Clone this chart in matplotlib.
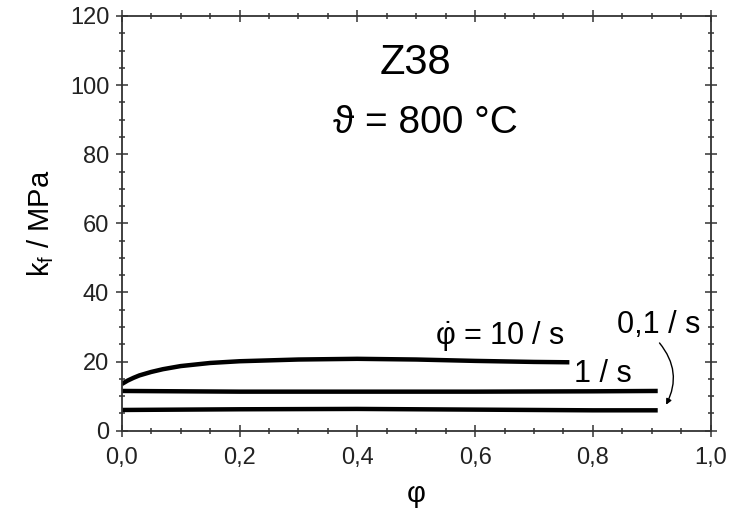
import matplotlib
matplotlib.use("Agg")
import matplotlib.pyplot as plt
from matplotlib.ticker import MultipleLocator

plt.rcParams['font.family'] = ['Liberation Sans', 'DejaVu Sans']
plt.rcParams['mathtext.fontset'] = 'custom'
plt.rcParams['mathtext.rm'] = 'Liberation Sans'
plt.rcParams['mathtext.it'] = 'Liberation Sans:italic'
plt.rcParams['mathtext.bf'] = 'Liberation Sans:bold'

# data
phi_10 = [0.0, 0.01, 0.02, 0.03, 0.05, 0.07, 0.1, 0.15, 0.2, 0.3, 0.4, 0.5, 0.6, 0.7, 0.76]
kf_10 = [13.5, 14.5, 15.3, 16.0, 17.0, 17.8, 18.7, 19.6, 20.1, 20.6, 20.8, 20.6, 20.2, 19.9, 19.8]
phi_1 = [0.0, 0.2, 0.4, 0.6, 0.8, 0.91]
kf_1 = [11.5, 11.3, 11.3, 11.3, 11.4, 11.5]
phi_01 = [0.0, 0.2, 0.4, 0.6, 0.8, 0.91]
kf_01 = [6.0, 6.2, 6.3, 6.1, 5.9, 5.9]

xticks = [0.0, 0.2, 0.4, 0.6, 0.8, 1.0]
xticklabels = ['0,0', '0,2', '0,4', '0,6', '0,8', '1,0']
yticks = [0, 20, 40, 60, 80, 100, 120]
yticklabels = ['0', '20', '40', '60', '80', '100', '120']

fig = plt.figure(figsize=(7.45, 5.16), dpi=100)
ax = fig.add_axes([0.1634, 0.1653, 0.7906, 0.8037])

for x, y in [(phi_10, kf_10), (phi_1, kf_1), (phi_01, kf_01)]:
    ax.plot(x, y, color='black', lw=3.2, solid_capstyle='butt')

ax.set_xlim(0, 1.0)
ax.set_ylim(0, 120)
ax.set_xticks(xticks)
ax.set_xticklabels(xticklabels)
ax.set_yticks(yticks)
ax.set_yticklabels(yticklabels)
ax.xaxis.set_minor_locator(MultipleLocator(0.05))
ax.yaxis.set_minor_locator(MultipleLocator(5))
ax.tick_params(which='major', direction='inout', length=8, width=1.1,
               labelsize=17, top=True, right=True, color='#333333',
               labelcolor='#222222')
ax.tick_params(axis='x', which='major', pad=8)
ax.tick_params(axis='y', which='major', pad=5)
ax.tick_params(which='minor', direction='inout', length=4, width=1.1,
               top=True, right=True, color='#333333')
for s in ax.spines.values():
    s.set_linewidth(1.3)
    s.set_color('#333333')

ax.set_xlabel('φ', fontsize=21, labelpad=8)
ax.set_ylabel(r'k$_\mathrm{f}$ / MPa', fontsize=21, labelpad=10)

ax.text(0.498, 106.5, 'Z38', fontsize=30, ha='center', va='center')
ax.text(0.515, 89, 'ϑ = 800 °C', fontsize=28, ha='center', va='center')

ax.text(0.643, 24.9, r'$\dot{\mathrm{φ}}$ = 10 / s', fontsize=22, ha='center', va='baseline')
ax.text(0.817, 14.1, '1 / s', fontsize=22, ha='center', va='baseline')
ax.text(0.912, 28.3, '0,1 / s', fontsize=22, ha='center', va='baseline')
ax.annotate('', xy=(0.922, 6.8), xytext=(0.910, 26.0),
            arrowprops=dict(arrowstyle='-|>', color='black', lw=1.0,
                            mutation_scale=8,
                            connectionstyle='arc3,rad=-0.35'))

fig.savefig('out.png', dpi=100)
